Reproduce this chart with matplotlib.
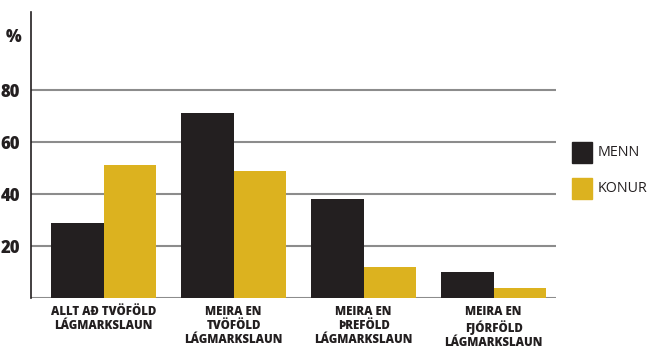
import matplotlib
matplotlib.use("Agg")
import matplotlib.pyplot as plt
from matplotlib.patches import Rectangle
import numpy as np

plt.rcParams['font.family'] = ['Open Sans', 'DejaVu Sans']

categories = ["ALLT AÐ TVÖFÖLD\nLÁGMARKSLAUN",
              "MEIRA EN\nTVÖFÖLD\nLÁGMARKSLAUN",
              "MEIRA EN\nÞREFÖLD\nLÁGMARKSLAUN",
              "MEIRA EN\nFJÓRFÖLD\nLÁGMARKSLAUN"]
menn = [29, 71, 38, 10]
konur = [51, 49, 12, 4]
yticks = [20, 40, 60, 80]
series_names = ["MENN", "KONUR"]

DARK = "#231f20"
GOLD = "#dcb21f"
GRID = "#8c8c8c"

fig = plt.figure(figsize=(6.49, 3.49), dpi=100)
ax = fig.add_axes([0.0478, 0.1461, 0.809, 0.8195])

x = np.arange(len(categories))
w = 0.404
ax.bar(x - w / 2, menn, width=w, color=DARK, zorder=3)
ax.bar(x + w / 2, konur, width=w, color=GOLD, zorder=3)

ax.set_xlim(-0.558, 3.48)
ax.set_ylim(0, 110)

for v in [0] + yticks:
    ax.axhline(v, color=GRID, lw=1.5, zorder=1)

for s in ["top", "right", "bottom"]:
    ax.spines[s].set_visible(False)
ax.spines["left"].set_color(DARK)
ax.spines["left"].set_linewidth(1.2)
ax.spines["left"].set_zorder(4)

ax.set_yticks(yticks)
ax.set_yticklabels([str(t) for t in yticks], fontsize=12, fontweight="heavy", color=DARK)
ax.tick_params(axis="y", length=0, pad=8)
ax.set_xticks(x)
ax.set_xticklabels(categories, fontsize=8.3, fontweight="heavy", color=DARK, linespacing=1.2)
ax.tick_params(axis="x", length=0, pad=6)

fig.text(22 / 649, 1 - 38 / 349, "%", ha="right", va="center",
         fontsize=12, fontweight="heavy", color=DARK)

# legend drawn as figure patches and labels
for i, (name, col) in enumerate(zip(series_names, [DARK, GOLD])):
    yc = 152 + i * 36
    fig.patches.append(Rectangle((572 / 649, 1 - (yc + 10.5) / 349), 20 / 649, 21 / 349,
                                 transform=fig.transFigure, color=col))
    fig.text(598 / 649, 1 - yc / 349, name, ha="left", va="center",
             fontsize=10.3, color=DARK)

fig.savefig("out.png", dpi=100)
